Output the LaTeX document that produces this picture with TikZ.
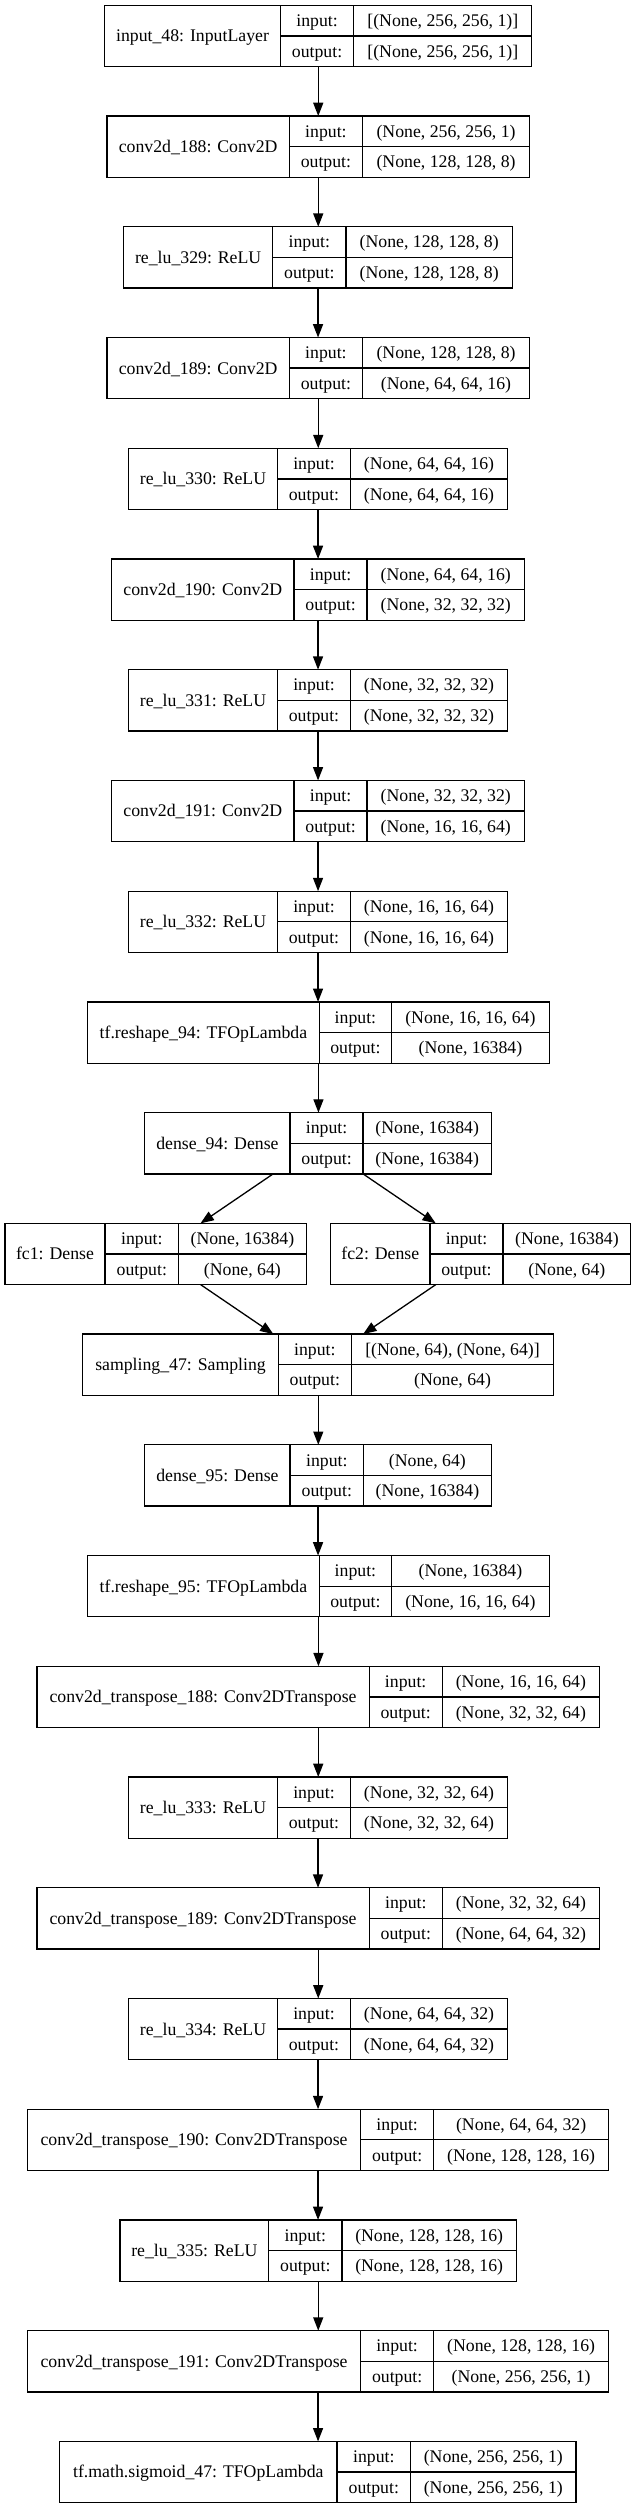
\documentclass[tikz,border=0pt]{standalone}
\usepackage{fontspec}
\setmainfont{Liberation Serif}
\usetikzlibrary{arrows.meta}
\newcommand\lblfont{\fontsize{17.75}{20}\selectfont}
\tikzset{
  box/.style={draw, line width=1.3pt, inner sep=0pt, outer sep=0pt, minimum height=61.3pt},
  cell/.style={line width=1.3pt},
  txt/.style={font=\lblfont, inner sep=0pt, text height=14.3pt, text depth=2.5pt},
  arr/.style={line width=1.3pt, -{Triangle[length=13.3pt,width=10pt]}},
}
% #1 node name, #2 row, #3 left, #4 divider1, #5 divider2, #6 right, #7 label, #8 input, #9 output
\newcommand\layer[9]{%
  \pgfmathsetmacro\yt{5.3+#2*110.73}%
  \pgfmathsetmacro\yb{\yt+61.3}%
  \pgfmathsetmacro\ym{\yt+30.65}%
  \pgfmathsetmacro\yq{\yt+15.325}%
  \pgfmathsetmacro\yr{\yt+45.975}%
  \node[box, minimum width={(#6-#3)*1pt}] (#1) at ({(#3+#6)/2},\ym) {};
  \draw[cell] (#4,\yt) -- (#4,\yb) (#5,\yt) -- (#5,\yb) (#4,\ym) -- (#6,\ym);
  \node[txt] (#1-name) at ({(#3+#4)/2},\ym) {#7};
  \node[txt] (#1-il) at ({(#4+#5)/2},\yq) {input:};
  \node[txt] (#1-ol) at ({(#4+#5)/2},\yr) {output:};
  \node[txt] (#1-iv) at ({(#5+#6)/2},\yq) {#8};
  \node[txt] (#1-ov) at ({(#5+#6)/2},\yr) {#9};
}
\begin{document}
\begin{tikzpicture}[x=1pt,y=-1pt]
\useasboundingbox (0,0) rectangle (637,2508);
\layer{L0}{0}{104.7}{280.3}{353.8}{531.8}{input\_48: InputLayer}{[(None, 256, 256, 1)]}{[(None, 256, 256, 1)]}
\layer{L1}{1}{107.1}{289.2}{362.7}{529.4}{conv2d\_188: Conv2D}{(None, 256, 256, 1)}{(None, 128, 128, 8)}
\layer{L2}{2}{123.7}{272.6}{346.0}{512.4}{re\_lu\_329: ReLU}{(None, 128, 128, 8)}{(None, 128, 128, 8)}
\layer{L3}{3}{107.1}{289.2}{362.7}{529.4}{conv2d\_189: Conv2D}{(None, 128, 128, 8)}{(None, 64, 64, 16)}
\layer{L4}{4}{128.6}{277.5}{350.5}{507.5}{re\_lu\_330: ReLU}{(None, 64, 64, 16)}{(None, 64, 64, 16)}
\layer{L5}{5}{111.6}{294.1}{367.1}{524.5}{conv2d\_190: Conv2D}{(None, 64, 64, 16)}{(None, 32, 32, 32)}
\layer{L6}{6}{128.6}{277.5}{350.5}{507.5}{re\_lu\_331: ReLU}{(None, 32, 32, 32)}{(None, 32, 32, 32)}
\layer{L7}{7}{111.6}{294.1}{367.1}{524.5}{conv2d\_191: Conv2D}{(None, 32, 32, 32)}{(None, 16, 16, 64)}
\layer{L8}{8}{128.6}{277.5}{350.5}{507.5}{re\_lu\_332: ReLU}{(None, 16, 16, 64)}{(None, 16, 16, 64)}
\layer{L9}{9}{87.6}{319.3}{391.5}{549.3}{tf.reshape\_94: TFOpLambda}{(None, 16, 16, 64)}{(None, 16384)}
\layer{L10}{10}{144.8}{290.1}{363.1}{491.3}{dense\_94: Dense}{(None, 16384)}{(None, 16384)}
\layer{FC1}{11}{4.9}{105.1}{178.5}{306.3}{fc1: Dense}{(None, 16384)}{(None, 64)}
\layer{FC2}{11}{330.6}{430.0}{503.0}{630.8}{fc2: Dense}{(None, 16384)}{(None, 64)}
\layer{L12}{12}{82.8}{278.3}{351.3}{553.8}{sampling\_47: Sampling}{[(None, 64), (None, 64)]}{(None, 64)}
\layer{L13}{13}{144.8}{290.1}{363.5}{491.3}{dense\_95: Dense}{(None, 64)}{(None, 16384)}
\layer{L14}{14}{87.6}{319.3}{391.5}{549.3}{tf.reshape\_95: TFOpLambda}{(None, 16384)}{(None, 16, 16, 64)}
\layer{L15}{15}{36.9}{369.2}{442.2}{599.6}{conv2d\_transpose\_188: Conv2DTranspose}{(None, 16, 16, 64)}{(None, 32, 32, 64)}
\layer{L16}{16}{128.6}{277.5}{350.5}{507.5}{re\_lu\_333: ReLU}{(None, 32, 32, 64)}{(None, 32, 32, 64)}
\layer{L17}{17}{36.9}{369.2}{442.4}{599.6}{conv2d\_transpose\_189: Conv2DTranspose}{(None, 32, 32, 64)}{(None, 64, 64, 32)}
\layer{L18}{18}{128.6}{277.5}{350.5}{507.5}{re\_lu\_334: ReLU}{(None, 64, 64, 32)}{(None, 64, 64, 32)}
\layer{L19}{19}{27.6}{360.6}{433.7}{608.5}{conv2d\_transpose\_190: Conv2DTranspose}{(None, 64, 64, 32)}{(None, 128, 128, 16)}
\layer{L20}{20}{120.1}{268.6}{342.0}{516.4}{re\_lu\_335: ReLU}{(None, 128, 128, 16)}{(None, 128, 128, 16)}
\layer{L21}{21}{27.6}{360.6}{433.7}{608.5}{conv2d\_transpose\_191: Conv2DTranspose}{(None, 128, 128, 16)}{(None, 256, 256, 1)}
\layer{L22}{22}{59.6}{337.1}{410.5}{576.1}{tf.math.sigmoid\_47: TFOpLambda}{(None, 256, 256, 1)}{(None, 256, 256, 1)}
% connectors
\foreach \a/\b in {L0/L1,L1/L2,L2/L3,L3/L4,L4/L5,L5/L6,L6/L7,L7/L8,L8/L9,L9/L10,
                   L12/L13,L13/L14,L14/L15,L15/L16,L16/L17,L17/L18,L18/L19,L19/L20,L20/L21,L21/L22}
  \draw[arr] (\a.south) -- (\a.south |- \b.north);
\draw[arr] (L10) -- (FC1);
\draw[arr] (L10) -- (FC2);
\draw[arr] (FC1) -- (L12);
\draw[arr] (FC2) -- (L12);
\end{tikzpicture}
\end{document}
